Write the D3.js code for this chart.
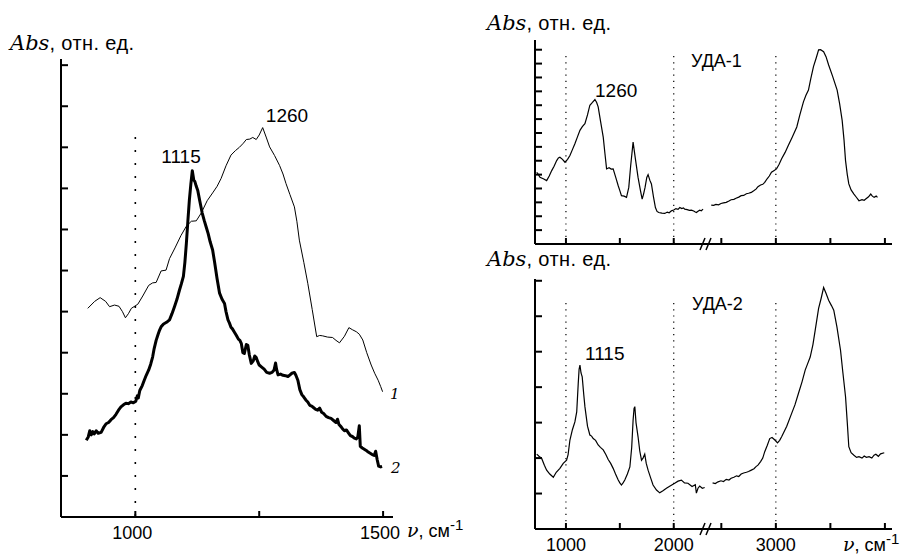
<!DOCTYPE html>
<html>
<head>
<meta charset="utf-8">
<script src="https://cdn.jsdelivr.net/npm/d3@7"></script>
<style>
  body { margin: 0; background: #fff; }
  svg { display: block; }
  text { font-family: "Liberation Sans", Arial, sans-serif; fill: #000; }
</style>
</head>
<body>
<div id="canvas"></div>
<script>
// left panel: curve 1 (thin) and curve 2 (thick)
const leftNu1 = [904, 918, 929, 940, 948, 958, 967, 974, 980, 986, 992, 1005, 1015, 1027, 1035, 1042, 1052, 1062, 1069, 1080, 1092, 1103, 1113, 1123, 1133, 1145, 1156, 1165, 1173, 1183, 1193, 1202, 1210, 1218, 1224, 1231, 1237, 1244, 1250, 1257, 1264, 1271, 1281, 1291, 1298, 1304, 1312, 1321, 1326, 1331, 1340, 1348, 1357, 1366, 1372, 1378, 1388, 1398, 1405, 1412, 1422, 1431, 1438, 1446, 1452, 1459, 1467, 1476, 1483, 1490, 1495, 1499];
const leftAbs1 = [5.08, 5.25, 5.34, 5.25, 5.12, 5.16, 5.13, 5.0, 4.85, 4.95, 5.08, 5.18, 5.38, 5.64, 5.7, 5.71, 5.99, 6.01, 6.29, 6.55, 6.85, 7.08, 7.2, 7.21, 7.4, 7.7, 7.89, 8.05, 8.24, 8.55, 8.81, 8.92, 9.0, 9.1, 9.19, 9.2, 9.24, 9.19, 9.3, 9.48, 9.25, 9.01, 8.8, 8.56, 8.35, 8.12, 7.85, 7.55, 7.2, 6.74, 6.2, 5.69, 5.05, 4.39, 4.42, 4.41, 4.38, 4.37, 4.3, 4.24, 4.4, 4.61, 4.56, 4.51, 4.45, 4.31, 4.0, 3.7, 3.5, 3.33, 3.18, 3.05];
const leftNu2 = [901, 905, 908, 911, 914, 917, 921, 925, 931, 936, 941, 946, 951, 956, 961, 966, 971, 976, 981, 986, 991, 996, 1001, 1004, 1006, 1009, 1014, 1018, 1022, 1027, 1031, 1035, 1038, 1042, 1046, 1049, 1052, 1057, 1063, 1069, 1074, 1079, 1084, 1089, 1093, 1097, 1100, 1103, 1106, 1109, 1112, 1115, 1118, 1120, 1123, 1126, 1130, 1135, 1139, 1143, 1147, 1151, 1156, 1160, 1165, 1170, 1175, 1180, 1183, 1187, 1190, 1193, 1196, 1200, 1204, 1208, 1211, 1214, 1217, 1220, 1224, 1227, 1230, 1234, 1238, 1241, 1244, 1247, 1250, 1255, 1260, 1265, 1271, 1276, 1280, 1283, 1285, 1288, 1293, 1298, 1303, 1308, 1311, 1316, 1321, 1324, 1328, 1332, 1336, 1340, 1344, 1348, 1352, 1356, 1360, 1364, 1368, 1372, 1376, 1380, 1385, 1390, 1395, 1400, 1405, 1408, 1411, 1415, 1418, 1422, 1426, 1430, 1434, 1438, 1442, 1446, 1449, 1452, 1454, 1458, 1462, 1466, 1470, 1474, 1478, 1482, 1485, 1488, 1491, 1495, 1498];
const leftAbs2 = [1.87, 1.95, 2.1, 2.0, 2.08, 2.02, 2.1, 2.04, 2.06, 2.18, 2.27, 2.3, 2.37, 2.42, 2.5, 2.6, 2.68, 2.73, 2.77, 2.76, 2.8, 2.78, 2.82, 2.95, 2.9, 3.08, 3.2, 3.33, 3.45, 3.58, 3.72, 3.9, 4.1, 4.3, 4.45, 4.55, 4.63, 4.7, 4.74, 4.8, 4.95, 5.12, 5.3, 5.52, 5.68, 5.86, 6.2, 6.66, 7.2, 7.71, 8.1, 8.43, 8.2, 8.17, 8.05, 7.95, 7.7, 7.4, 7.22, 7.06, 6.9, 6.7, 6.5, 6.2, 5.8, 5.45, 5.3, 5.2, 5.0, 4.8, 4.72, 4.62, 4.58, 4.5, 4.42, 4.33, 4.3, 4.22, 4.0, 3.98, 4.2, 4.18, 3.95, 3.74, 3.8, 3.92, 3.88, 3.78, 3.7, 3.65, 3.6, 3.52, 3.5, 3.52, 3.58, 3.75, 3.6, 3.46, 3.48, 3.45, 3.44, 3.42, 3.45, 3.5, 3.52, 3.45, 3.33, 3.1, 2.98, 2.92, 2.85, 2.8, 2.72, 2.7, 2.66, 2.62, 2.6, 2.65, 2.55, 2.52, 2.45, 2.42, 2.4, 2.35, 2.3, 2.38, 2.25, 2.2, 2.15, 2.1, 2.12, 2.05, 1.98, 1.96, 1.92, 1.9, 1.95, 2.22, 1.72, 1.68, 1.65, 1.62, 1.58, 1.55, 1.52, 1.5, 1.6, 1.4, 1.24, 1.22, 1.23];

// right top panel: УДА-1
const udaNu1 = [729, 745, 759, 790, 821, 845, 868, 890, 914, 930, 944, 968, 991, 1015, 1037, 1060, 1083, 1106, 1130, 1152, 1176, 1200, 1222, 1246, 1269, 1285, 1299, 1322, 1346, 1362, 1377, 1400, 1420, 1438, 1462, 1485, 1500, 1515, 1540, 1562, 1583, 1600, 1623, 1645, 1669, 1690, 1707, 1720, 1734, 1750, 1762, 1778, 1793, 1812, 1830, 1845, 1861, 1890, 1917, 1940, 1958, 1978, 2000, 2020, 2040, 2056, 2075, 2090, 2102, 2125, 2145, 2164, 2185, 2200, 2210, 2225, 2241, 2256, 2272,
                2405, 2430, 2450, 2475, 2497, 2520, 2545, 2570, 2590, 2615, 2635, 2660, 2682, 2705, 2730, 2750, 2775, 2800, 2818, 2836, 2860, 2880, 2898, 2920, 2940, 2960, 2985, 3006, 3030, 3053, 3085, 3114, 3150, 3192, 3220, 3253, 3275, 3299, 3320, 3345, 3370, 3392, 3410, 3438, 3460, 3484, 3520, 3562, 3585, 3608, 3625, 3639, 3655, 3669, 3690, 3716, 3740, 3762, 3790, 3810, 3824, 3850, 3870, 3885, 3901, 3920, 3932];
const udaAbs1 = [5.17, 5.0, 4.8, 4.7, 4.57, 4.9, 5.29, 5.6, 6.01, 6.2, 6.25, 6.1, 5.89, 6.1, 6.38, 6.8, 7.22, 7.7, 8.19, 8.45, 8.67, 9.3, 10.0, 10.2, 10.41, 10.2, 9.88, 8.8, 7.7, 6.5, 5.41, 5.5, 5.4, 5.41, 4.8, 4.2, 3.85, 3.48, 3.45, 3.36, 4.08, 5.6, 7.34, 6.1, 4.8, 3.9, 3.24, 3.6, 4.08, 4.8, 5.0, 4.6, 4.33, 3.4, 2.63, 2.35, 2.27, 2.22, 2.2, 2.3, 2.25, 2.39, 2.45, 2.55, 2.5, 2.63, 2.55, 2.6, 2.51, 2.48, 2.42, 2.44, 2.38, 2.3, 2.27, 2.36, 2.44, 2.4, 2.51,
                2.8, 2.78, 2.85, 2.82, 2.92, 2.96, 3.0, 3.1, 3.19, 3.22, 3.3, 3.38, 3.48, 3.5, 3.62, 3.66, 3.72, 3.85, 3.95, 4.13, 4.25, 4.3, 4.44, 4.7, 4.9, 5.17, 5.3, 5.41, 5.75, 6.14, 6.6, 7.1, 7.7, 8.43, 9.3, 10.24, 10.7, 11.09, 11.9, 12.78, 13.4, 13.99, 14.0, 13.86, 13.5, 12.9, 12.1, 11.09, 10.1, 8.91, 7.5, 6.01, 5.0, 4.33, 3.9, 3.6, 3.35, 3.12, 3.2, 3.15, 3.24, 3.4, 3.6, 3.45, 3.36, 3.45, 3.36];

// right bottom panel: УДА-2
const udaNu2 = [729, 750, 775, 800, 821, 850, 883, 910, 944, 975, 1006, 1020, 1037, 1060, 1083, 1100, 1114, 1122, 1130, 1140, 1151, 1165, 1176, 1200, 1222, 1238, 1253, 1275, 1299, 1320, 1346, 1370, 1392, 1415, 1438, 1460, 1485, 1500, 1515, 1530, 1546, 1570, 1593, 1610, 1623, 1632, 1639, 1650, 1669, 1685, 1701, 1715, 1731, 1745, 1762, 1785, 1808, 1840, 1870, 1900, 1932, 1970, 2009, 2040, 2071, 2100, 2132, 2170, 2200, 2210, 2225, 2241, 2265, 2287,
                2420, 2445, 2470, 2497, 2520, 2545, 2570, 2590, 2615, 2640, 2660, 2682, 2705, 2730, 2750, 2775, 2800, 2818, 2836, 2860, 2880, 2898, 2920, 2944, 2965, 2991, 3015, 3035, 3053, 3100, 3145, 3175, 3207, 3240, 3269, 3290, 3315, 3340, 3361, 3392, 3415, 3438, 3460, 3484, 3510, 3531, 3560, 3593, 3615, 3639, 3655, 3669, 3690, 3716, 3740, 3762, 3790, 3810, 3830, 3855, 3880, 3900, 3917, 3940, 3960, 3994];
const udaAbs2 = [2.11, 2.05, 1.99, 1.8, 1.66, 1.55, 1.46, 1.6, 1.71, 1.85, 1.94, 2.1, 2.51, 2.8, 3.02, 3.3, 4.1, 4.5, 4.62, 4.4, 4.29, 3.8, 3.45, 2.9, 2.65, 2.62, 2.55, 2.5, 2.37, 2.3, 2.23, 2.1, 1.96, 1.85, 1.71, 1.55, 1.38, 1.3, 1.24, 1.3, 1.38, 1.55, 1.75, 2.3, 3.07, 3.4, 3.45, 3.0, 2.6, 2.2, 1.94, 2.0, 2.11, 1.85, 1.66, 1.45, 1.24, 1.1, 1.02, 1.08, 1.15, 1.22, 1.29, 1.35, 1.38, 1.3, 1.29, 1.2, 1.25, 1.01, 1.15, 1.21, 1.15, 1.17,
                1.3, 1.28, 1.33, 1.36, 1.34, 1.4, 1.38, 1.43, 1.46, 1.5, 1.48, 1.55, 1.58, 1.6, 1.62, 1.66, 1.7, 1.76, 1.8, 1.9, 2.0, 2.18, 2.35, 2.55, 2.58, 2.51, 2.43, 2.5, 2.6, 2.9, 3.26, 3.5, 3.82, 4.15, 4.48, 4.65, 4.85, 5.2, 5.61, 6.22, 6.5, 6.81, 6.65, 6.45, 6.3, 6.17, 5.7, 5.04, 4.4, 3.73, 3.0, 2.32, 2.15, 2.08, 2.02, 2.04, 2.0, 2.06, 2.02, 2.04, 2.0, 2.08, 2.11, 2.05, 2.12, 2.15];

const leftTicksX = [1000, 1250, 1500];
const leftLabelsX = [1000, 1500];
const rightTicksX = [1000, 1500, 2000, 2500, 3000, 3500, 4000];
const rightLabelsX = [1000, 2000, 3000];
const dottedLeft = [1000];
const dottedRight = [1000, 2000, 3000];

const W = 911, H = 554;
const svg = d3.select("#canvas").append("svg")
  .attr("width", W)
  .attr("height", H);

function rows(nu, ab) { return nu.map((v, i) => ({ v: v, a: ab[i] })); }

// y-axis title "Abs, отн. ед."
function absTitle(x, y) {
  const t = svg.append("text").attr("x", x).attr("y", y);
  t.append("tspan").text("Abs")
    .style("font-family", "'DejaVu Serif', serif")
    .style("font-style", "italic")
    .style("font-size", "21px");
  t.append("tspan").text(", отн. ед.")
    .style("font-size", "20px")
    .style("letter-spacing", "0.4px");
}

// x-axis title "ν, см-1"
function nuTitle(x, y) {
  const t = svg.append("text").attr("x", x).attr("y", y);
  t.append("tspan").text("ν")
    .style("font-family", "'DejaVu Serif', serif")
    .style("font-style", "italic")
    .style("font-size", "19px");
  t.append("tspan").text(", см").style("font-size", "18px");
  t.append("tspan").text("-1").attr("dy", -7).style("font-size", "15px");
}

function axes(x, y, x0, x1, y0, y1, ticksX, nTicksY) {
  const g = svg.append("g");
  g.append("line").attr("x1", x0).attr("x2", x0).attr("y1", y1).attr("y2", y0)
    .attr("stroke", "#000").attr("stroke-width", 2);
  g.append("line").attr("x1", x0).attr("x2", x1).attr("y1", y0).attr("y2", y0)
    .attr("stroke", "#000").attr("stroke-width", 2);
  g.selectAll(".tx").data(ticksX).enter().append("line")
    .attr("x1", d => x(d)).attr("x2", d => x(d))
    .attr("y1", y0).attr("y2", y0 - 6)
    .attr("stroke", "#000").attr("stroke-width", 2);
  g.selectAll(".ty").data(d3.range(1, nTicksY + 1)).enter().append("line")
    .attr("x1", x0).attr("x2", x0 + 7)
    .attr("y1", d => y(d)).attr("y2", d => y(d))
    .attr("stroke", "#000").attr("stroke-width", 2);
  return g;
}

// ---------- left panel ----------
const xL = d3.scaleLinear().domain([850, 1520]).range([61, 393]);
const yL = d3.scaleLinear().domain([0, 11.15]).range([517, 59]);

svg.selectAll(".dotL").data(dottedLeft).enter().append("line")
  .attr("x1", d => xL(d)).attr("x2", d => xL(d))
  .attr("y1", 137).attr("y2", 517)
  .attr("stroke", "#000").attr("stroke-width", 1.6)
  .attr("stroke-dasharray", "2,11");

axes(xL, yL, 61, 393, 517, 59, leftTicksX, 11);

const lineL = d3.line().x(d => xL(d.v)).y(d => yL(d.a));
svg.append("path").datum(rows(leftNu1, leftAbs1))
  .attr("d", lineL).attr("fill", "none").attr("stroke", "#000").attr("stroke-width", 1);
svg.append("path").datum(rows(leftNu2, leftAbs2))
  .attr("d", lineL).attr("fill", "none").attr("stroke", "#000")
  .attr("stroke-width", 3).attr("stroke-linejoin", "round");

svg.selectAll(".lblL").data(leftLabelsX).enter().append("text")
  .attr("x", d => xL(d) - 3).attr("y", 539)
  .attr("text-anchor", "middle").style("font-size", "18px").text(d => d);

svg.append("text").attr("x", 181).attr("y", 163).attr("text-anchor", "middle")
  .style("font-size", "19px").text("1115");
svg.append("text").attr("x", 287).attr("y", 122).attr("text-anchor", "middle")
  .style("font-size", "19px").text("1260");
svg.append("text").attr("x", 390).attr("y", 399)
  .style("font-family", "'DejaVu Serif', serif").style("font-style", "italic")
  .style("font-size", "15px").text("1");
svg.append("text").attr("x", 391).attr("y", 473)
  .style("font-family", "'DejaVu Serif', serif").style("font-style", "italic")
  .style("font-size", "15px").text("2");

absTitle(10, 50);
nuTitle(407, 537);

// ---------- right panels ----------
const xR = d3.scaleLinear().domain([713, 2290, 2410, 4065]).range([535, 705, 711.5, 892]);

function rightPanel(nu, ab, yTop, yBot, yMax, nTicks, dotTop, name, namePos, peak, peakPos, titleY) {
  const y = d3.scaleLinear().domain([0, yMax]).range([yBot, yTop]);

  svg.selectAll(null).data(dottedRight).enter().append("line")
    .attr("x1", d => xR(d)).attr("x2", d => xR(d))
    .attr("y1", dotTop).attr("y2", yBot)
    .attr("stroke", "#000").attr("stroke-width", 1.2)
    .attr("stroke-dasharray", "1.2,5");

  axes(xR, y, 535, 892, yBot, yTop, rightTicksX, nTicks);

  // axis break marks
  [0, 6].forEach(dx => {
    svg.append("line")
      .attr("x1", 700 + dx).attr("y1", yBot + 6)
      .attr("x2", 705 + dx).attr("y2", yBot - 6)
      .attr("stroke", "#000").attr("stroke-width", 1.5);
  });

  const data = rows(nu, ab);
  const line = d3.line().x(d => xR(d.v)).y(d => y(d.a));
  [data.filter(d => d.v < 2350), data.filter(d => d.v >= 2350)].forEach(seg => {
    svg.append("path").datum(seg)
      .attr("d", line).attr("fill", "none").attr("stroke", "#000")
      .attr("stroke-width", 1.2);
  });

  svg.append("text").attr("x", namePos[0]).attr("y", namePos[1])
    .style("font-size", "18px").text(name);
  svg.append("text").attr("x", peakPos[0]).attr("y", peakPos[1])
    .style("font-size", "19px").text(peak);
  absTitle(487, titleY);
  return y;
}

rightPanel(udaNu1, udaAbs1, 40, 244, 14.7, 14, 56, "УДА-1", [691, 67], "1260", [595, 97], 30);
rightPanel(udaNu2, udaAbs2, 279, 529, 7.05, 7, 303, "УДА-2", [692, 310], "1115", [585, 360], 266);

svg.selectAll(".lblR").data(rightLabelsX).enter().append("text")
  .attr("x", d => xR(d)).attr("y", 551)
  .attr("text-anchor", "middle").style("font-size", "18px").text(d => d);

nuTitle(843, 551);
</script>
</body>
</html>
